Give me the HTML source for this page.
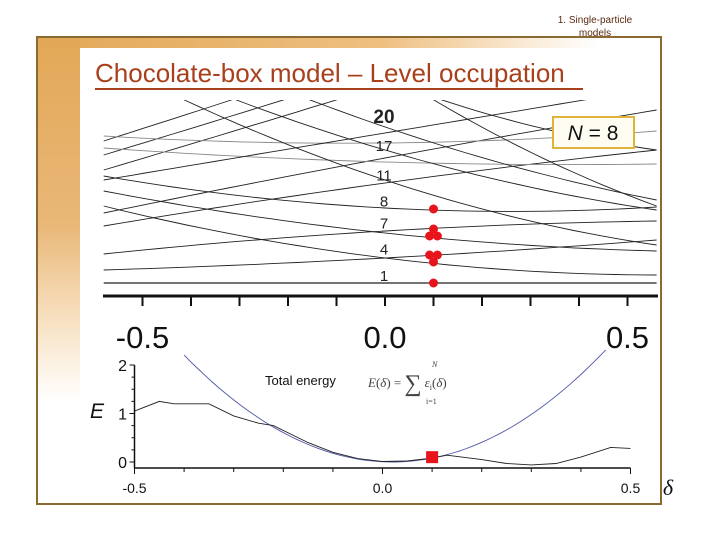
<!DOCTYPE html>
<html><head><meta charset="utf-8">
<style>
html,body{margin:0;padding:0;background:#fff;}
body{width:720px;height:540px;position:relative;overflow:hidden;font-family:"Liberation Sans",sans-serif;}
#frame{position:absolute;left:36px;top:36px;width:622px;height:465px;border:2px solid #8a6a30;background:#fff;}
#topband{position:absolute;left:0;top:0;width:622px;height:10px;background:linear-gradient(to right,#e2a857 0%,#eebf80 55%,#fff 90%);}
#leftband{position:absolute;left:0;top:0;width:42px;height:465px;background:linear-gradient(to bottom,#e2a857 0%,#e9b777 40%,#f6dcb8 58%,#fff 78%);}
#hdr{position:absolute;left:540px;top:14px;width:110px;text-align:center;font-size:10px;line-height:13px;color:#5a2a10;}
#title{position:absolute;left:95px;top:58px;font-size:26px;color:#a8401c;white-space:nowrap;border-bottom:2px solid #a8401c;padding-right:18px;line-height:30px;}
svg{position:absolute;left:0;top:0;}
</style></head>
<body>
<div id="frame">
  <div id="topband"></div>
  <div id="leftband"></div>
</div>
<div id="hdr">1. Single-particle<br>models</div>
<div id="title">Chocolate-box model – Level occupation</div>
<svg id="chart" width="720" height="540">
  <defs><clipPath id="clipTop"><rect x="103" y="100" width="555" height="190"/></clipPath></defs>
  <g id="levels" clip-path="url(#clipTop)"></g>
  <g id="topaxis"></g>
  <g id="bottom"></g>
</svg>
<script>
// ---- top chart data: level energies sampled at three deltas ----
const levelDeltas = [-0.58, 0, 0.56];
const levelsLeft  = [0, 1.95, 4.35, 11.55, 13.8, 16.05, 8.55, 10.5, 16.95, 19.2, 21.3, 22.05, 20.25, 33.45, 35.7, 40.95, 64.95, 51.45, 15.45];
const levelsMid   = [0, 3.75, 7.8, 3.75, 7.5, 11.25, 15, 18.75, 29.7, 32.25, 34.95, 21, 18.15, 15.45, 19.95, 23.4, 31.95, 30.45, 22.5];
const levelsRight = [0, 6.45, 9.3, 1.2, 4.8, 11.4, 19.95, 25.95, 42.45, 45.45, 48.45, 22.8, 17.85, 5.7, 10.95, 12.45, 11.55, 19.95, 29.25];
const levelGray   = [0,0,0,0,0,0,0,0,0,0,0,1,1,0,0,0,0,0,0];
const levelLabels = ["1","4","7","8","11","17","20"];
const labelEnergies = [1.2, 5.2, 9.1, 12.4, 16.3, 20.7, 24.9];
const occDelta = 0.1;
const occEnergies = [0, 3.15, 4.2, 4.2, 7.05, 7.05, 8.1, 11.1];
const occOffsets = [0, 0, -0.008, 0.008, -0.008, 0.008, 0, 0];
const topTicks = [-0.5,-0.4,-0.3,-0.2,-0.1,0,0.1,0.2,0.3,0.4,0.5];
const topTickLabels = ["-0.5","0.0","0.5"];
const topTickLabelVals = [-0.5,0,0.5];
// ---- bottom chart data ----
const eDeltas = [-0.5,-0.45,-0.42,-0.35,-0.3,-0.25,-0.22,-0.15,-0.1,-0.05,0,0.05,0.1,0.13,0.2,0.25,0.3,0.35,0.4,0.46,0.5];
const eValues = [1.05,1.25,1.2,1.2,0.95,0.8,0.75,0.4,0.2,0.07,0.01,0.02,0.08,0.14,0.05,-0.03,-0.06,-0.03,0.1,0.3,0.28];
const parabolaCoef = 12.5;
const parabolaShift = -0.02;
const yTicksBottom = [0,1,2];
const xTicksBottom = [-0.5,0,0.5];
const markerDelta = 0.1, markerE = 0.1;

const NS="http://www.w3.org/2000/svg";
function mk(tag,attrs,parent){const e=document.createElementNS(NS,tag);for(const k in attrs)e.setAttribute(k,attrs[k]);parent.appendChild(e);return e;}
const xTop = d => 385 + d*485;
const yTop = E => 283 - E*20/3;
const xBot = d => 382.5 + d*496;
const yBot = E => 462 - E*48.5;

const gL=document.getElementById('levels');
function quad(d,i){
  const [x0,x1,x2]=levelDeltas, y0=levelsLeft[i], y1=levelsMid[i], y2=levelsRight[i];
  return y0*(d-x1)*(d-x2)/((x0-x1)*(x0-x2))+y1*(d-x0)*(d-x2)/((x1-x0)*(x1-x2))+y2*(d-x0)*(d-x1)/((x2-x0)*(x2-x1));
}
for(let i=0;i<levelsLeft.length;i++){
  let p="";
  for(let k=0;k<=40;k++){const d=levelDeltas[0]+(levelDeltas[2]-levelDeltas[0])*k/40;p+=(k?"L":"M")+xTop(d).toFixed(1)+","+yTop(quad(d,i)).toFixed(1);}
  const e=mk('path',{d:p,fill:'none',stroke:levelGray[i]?'#888':'#222','stroke-width':i===0?1.2:0.9},gL);
  
  
}
const gA=document.getElementById('topaxis');
for(let i=0;i<levelLabels.length;i++){
  const t=mk('text',{x:384,y:yTop(labelEnergies[i])+6,'text-anchor':'middle','font-size':i===6?19:15,'font-weight':i===6?'bold':'normal',fill:'#222'},gA);
  t.textContent=levelLabels[i];
  
  
}
for(let i=0;i<occEnergies.length;i++){
  const c=mk('circle',{cx:xTop(occDelta+occOffsets[i]),cy:yTop(occEnergies[i]),r:4.5,fill:'#e8141c'},gA);
  
  
}
const ax=mk('line',{x1:103,x2:658,y1:296,y2:296,stroke:'#111','stroke-width':3},gA);


for(const d of topTicks){
  const t=mk('line',{x1:xTop(d),x2:xTop(d),y1:296,y2:306,stroke:'#111','stroke-width':2},gA);
  
  
}
for(let i=0;i<topTickLabels.length;i++){
  const t=mk('text',{x:xTop(topTickLabelVals[i]),y:348,'text-anchor':'middle','font-size':31,fill:'#111'},gA);
  t.textContent=topTickLabels[i];
  
  
}
const nb=mk('rect',{x:553,y:117,width:81,height:31,fill:'#fffdf2',stroke:'#e0b43a','stroke-width':2},gA);


const nt=mk('text',{x:593,y:140,'text-anchor':'middle','font-size':21,fill:'#111'},gA);
nt.innerHTML='<tspan font-style="italic">N</tspan> = 8';



// bottom chart
const gB=document.getElementById('bottom');
let pp="";
for(let k=0;k<=60;k++){const d=-0.4+0.85*k/60;pp+=(k?"L":"M")+xBot(d).toFixed(1)+","+yBot(parabolaCoef*(d+parabolaShift)**2).toFixed(1);}
const par=mk('path',{d:pp,fill:'none',stroke:'#5058a8','stroke-width':0.9},gB);


let ep="";
for(let i=0;i<eDeltas.length;i++)ep+=(i?"L":"M")+xBot(eDeltas[i]).toFixed(1)+","+yBot(eValues[i]).toFixed(1);
const ec=mk('path',{d:ep,fill:'none',stroke:'#222','stroke-width':0.9},gB);


const ms=mk('rect',{x:xBot(markerDelta)-6,y:yBot(markerE)-6,width:12,height:12,fill:'#e8141c'},gB);


const bx=mk('line',{x1:xBot(-0.5),x2:xBot(0.5),y1:468,y2:468,stroke:'#111','stroke-width':1.5},gB);


const by=mk('line',{x1:xBot(-0.5),x2:xBot(-0.5),y1:yBot(2),y2:468,stroke:'#111','stroke-width':1.5},gB);


for(let k=0;k<=10;k++){const d=-0.5+k*0.1;const t=mk('line',{x1:xBot(d),x2:xBot(d),y1:468,y2:k%5?472:474,stroke:'#111'},gB);
  
  }
for(let k=0;k<=8;k++){const E=k*0.25;const t=mk('line',{x1:xBot(-0.5)-(k%4?3:5),x2:xBot(-0.5),y1:yBot(E),y2:yBot(E),stroke:'#111'},gB);
  
  }
for(const E of yTicksBottom){const t=mk('text',{x:127,y:yBot(E)+6,'text-anchor':'end','font-size':16,fill:'#111'},gB);t.textContent=String(E);
  
  }
for(const d of xTicksBottom){const t=mk('text',{x:xBot(d),y:493,'text-anchor':'middle','font-size':14,fill:'#111'},gB);t.textContent=d.toFixed(1);
  
  }
const el=mk('text',{x:97,y:418,'text-anchor':'middle','font-size':21,'font-style':'italic',fill:'#111'},gB);el.textContent='E';


const dl=mk('text',{x:668,y:495,'text-anchor':'middle','font-size':22,'font-style':'italic','font-family':'Liberation Serif, serif',fill:'#111'},gB);dl.textContent='δ';


const tl=mk('text',{x:265,y:385,'font-size':13,fill:'#111'},gB);tl.textContent='Total energy';


const fm=mk('text',{x:368,y:387,'font-size':13,'font-family':'Liberation Serif, serif',fill:'#444'},gB);
fm.innerHTML='<tspan font-style="italic">E</tspan>(<tspan font-style="italic">δ</tspan>) = <tspan font-size="24" dy="4">∑</tspan><tspan dy="-4" dx="3" font-style="italic">ε</tspan><tspan font-size="8" dy="3">i</tspan><tspan dy="-3">(</tspan><tspan font-style="italic">δ</tspan>)';


const fn=mk('text',{x:432,y:367,'font-size':8,'font-style':'italic','font-family':'Liberation Serif, serif',fill:'#444'},gB);fn.textContent='N';


const fi=mk('text',{x:426,y:404,'font-size':8,'font-family':'Liberation Serif, serif',fill:'#444'},gB);fi.textContent='i=1';


</script>
</body></html>
